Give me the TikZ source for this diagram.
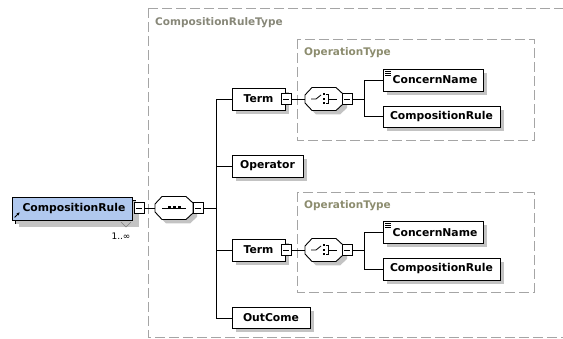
\documentclass[tikz,border=0pt]{standalone}
\usepackage{fontspec}
\newfontfamily\dvs{DejaVu Sans}
\usetikzlibrary{shadows,arrows.meta}
\definecolor{crblue}{RGB}{176,200,238}
\definecolor{lblgray}{RGB}{135,135,120}
\definecolor{typegray}{RGB}{140,140,110}
\definecolor{dashgray}{RGB}{165,165,165}
\definecolor{shgray}{RGB}{195,195,195}
\tikzset{
  elem/.style={draw=black, line width=0.9pt, fill=white, font=\dvs\bfseries\fontsize{10.8}{12}\selectfont,
    inner sep=0pt, minimum height=22pt,
    drop shadow={shadow xshift=4pt, shadow yshift=-4pt, fill=shgray, opacity=1}},
  mbox/.style={draw=black, line width=0.8pt, fill=white, minimum width=10pt, minimum height=11pt, inner sep=0pt},
  comp/.style={inner sep=0pt, minimum width=38pt, minimum height=24pt},
  octo/.style={draw=black, line width=0.9pt, fill=white},
  frame/.style={draw=dashgray, line width=0.8pt, dash pattern=on 10pt off 4pt},
  lbl/.style={font=\dvs\bfseries\fontsize{10.5}{12}\selectfont, anchor=west, inner sep=0pt},
  conn/.style={draw=black, line width=0.9pt},
  icon/.style={draw=black, line width=0.8pt},
}
\newcommand\octpath{(-19,-4) -- (-12,-11.5) -- (12,-11.5) -- (19,-5) -- (19,5) -- (12,11.5) -- (-12,11.5) -- (-19,4) -- cycle}
\begin{document}
\begin{tikzpicture}[x=1pt,y=-1pt]
\useasboundingbox (0,0) rectangle (563,339);
\clip (0,0) rectangle (563,339);
% frames
\draw[frame] (148,8) rectangle (580,337);
\draw[frame] (297,39) rectangle (534,140);
\draw[frame] (297,192) rectangle (534,292);
\node[lbl, text=lblgray] (lt) at (155,23) {CompositionRuleType};
\node[lbl, text=typegray] (lo1) at (304,53) {OperationType};
\node[lbl, text=typegray] (lo2) at (304,206) {OperationType};
% root element (repeated)
\node[elem, fill=crblue, minimum width=120pt, minimum height=23pt] (crs) at (75,211.5) {};
\node[elem, fill=crblue, minimum width=120pt, minimum height=23pt, drop shadow={fill=none,opacity=0}] (cr) at (72,208.5) {\hspace*{4pt}CompositionRule};
\draw[icon, -{Stealth[length=3pt,width=3pt]}] ([shift={(3,-3)}]cr.south west) -- ([shift={(8,-8)}]cr.south west);
\draw[draw=gray, line width=0.6pt] (121,222) -- (126,227) -- (131,222);
\node[font=\dvs\fontsize{9}{10}\selectfont, inner sep=0pt] (mult) at (121,236) {1..∞};
\node[mbox] (m0) at (139,208) {};
\draw[icon] ([xshift=2.5pt]m0.west) -- ([xshift=-2.5pt]m0.east);
% sequence compositor
\node[comp, minimum height=23pt] (seq) at (174,208) {};
\begin{scope}[shift={(seq.center)}]
\fill[shgray, shift={(4,4)}] \octpath;
\draw[octo] \octpath;
\draw[icon] (-12,0) -- (12,0);
\fill (-6.5,-1.5) rectangle (-3.5,1.5);
\fill (-1.5,-1.5) rectangle (1.5,1.5);
\fill (3.5,-1.5) rectangle (6.5,1.5);
\end{scope}
\node[mbox] (ms) at (198,208) {};
\draw[icon] ([xshift=2.5pt]ms.west) -- ([xshift=-2.5pt]ms.east);
\draw[conn] (m0.east) -- (seq.west);
\coordinate (j) at (216,208);
\draw[conn] (ms.east) -- (j);
% children
\node[elem, minimum width=53pt] (t1) at (258.5,99) {Term};
\node[elem, minimum width=71pt] (op) at (267.5,166) {Operator};
\node[elem, minimum width=53pt] (t2) at (258.5,250) {Term};
\node[elem, minimum width=78pt, minimum height=21pt] (oc) at (271,318) {OutCome};
\draw[conn] (j) |- (t1.west);
\draw[conn] (j) |- (op.west);
\draw[conn] (j) |- (t2.west);
\draw[conn] (j) |- (oc.west);
\node[mbox] (mt1) at (286,99) {};
\draw[icon] ([xshift=2.5pt]mt1.west) -- ([xshift=-2.5pt]mt1.east);
\node[mbox] (mt2) at (286,250) {};
\draw[icon] ([xshift=2.5pt]mt2.west) -- ([xshift=-2.5pt]mt2.east);
% choice compositors
\node[comp] (ch1) at (324,99) {};
\node[comp] (ch2) at (324,250) {};
\foreach \c in {ch1,ch2}{
\begin{scope}[shift={(\c.center)}]
\fill[shgray, shift={(4,4)}] \octpath;
\draw[octo] \octpath;
\draw[icon] (-13,0) -- (-8,0) -- (-3,-4);
\fill (-1.5,-5.5) rectangle (0.5,-3.5);
\fill (-1.5,-1) rectangle (0.5,1);
\fill (-1.5,3.5) rectangle (0.5,5.5);
\draw[icon] (1.5,-4.5) -- (4.5,-4.5) -- (4.5,4.5) -- (1.5,4.5);
\draw[icon] (4.5,0) -- (13,0);
\end{scope}
}
\node[mbox] (mc1) at (347,99) {};
\draw[icon] ([xshift=2.5pt]mc1.west) -- ([xshift=-2.5pt]mc1.east);
\node[mbox] (mc2) at (347,250) {};
\draw[icon] ([xshift=2.5pt]mc2.west) -- ([xshift=-2.5pt]mc2.east);
\draw[conn] (mt1.east) -- (ch1.west);
\draw[conn] (mt2.east) -- (ch2.west);
% grandchildren
\node[elem, minimum width=100pt] (cn1) at (433,80) {\hspace*{4pt}ConcernName};
\node[elem, minimum width=117pt, minimum height=21pt] (cr1) at (441.5,116.5) {CompositionRule};
\node[elem, minimum width=100pt] (cn2) at (433,232.5) {\hspace*{4pt}ConcernName};
\node[elem, minimum width=117pt] (cr2) at (441.5,269) {CompositionRule};
\coordinate (k1) at (364,99);
\coordinate (k2) at (364,250);
\draw[conn] (mc1.east) -- (k1);
\draw[conn] (k1) |- (cn1.west);
\draw[conn] (k1) |- (cr1.west);
\draw[conn] (mc2.east) -- (k2);
\draw[conn] (k2) |- (cn2.west);
\draw[conn] (k2) |- (cr2.west);
\foreach \n in {cn1,cn2}{
\begin{scope}[shift={(\n.north west)}]
\draw[line width=0.6pt] (2.5,2.5) -- (8,2.5);
\draw[line width=0.6pt] (2.5,4.5) -- (8,4.5);
\draw[line width=0.6pt] (2.5,6.5) -- (8,6.5);
\end{scope}
}
\end{tikzpicture}
\end{document}
